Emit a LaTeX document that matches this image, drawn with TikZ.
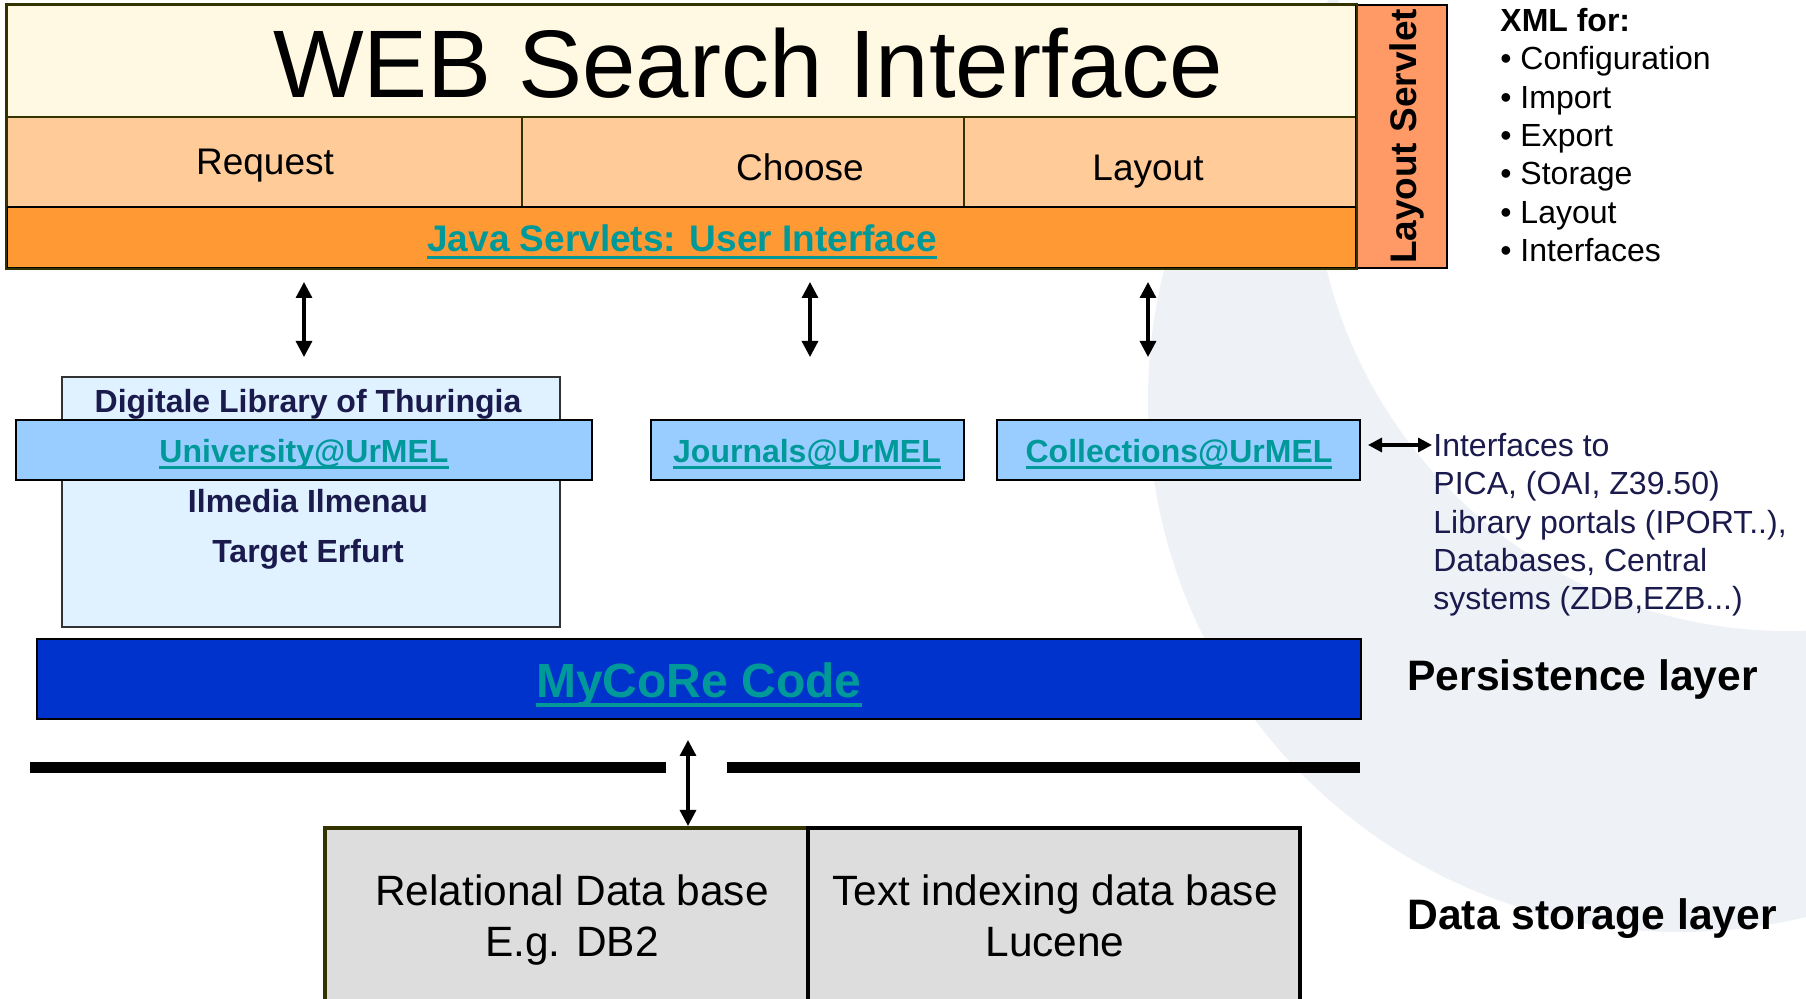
\documentclass[tikz,border=0pt]{standalone}
\usepackage{fontspec}
\setmainfont{Liberation Sans}
\usetikzlibrary{arrows.meta}
\definecolor{frameolive}{HTML}{333300}
\definecolor{webfill}{HTML}{FFF9E3}
\definecolor{rowfill}{HTML}{FFCC99}
\definecolor{javafill}{HTML}{FF9933}
\definecolor{servletfill}{HTML}{FF9966}
\definecolor{linkteal}{HTML}{009999}
\definecolor{libfill}{HTML}{E0F2FF}
\definecolor{urmelfill}{HTML}{99CCFF}
\definecolor{mycorefill}{HTML}{0033CC}
\definecolor{navytext}{HTML}{1A1A4D}
\definecolor{dbfill}{HTML}{DDDDDD}
\definecolor{bgarc}{HTML}{EEF1F6}
\newcommand\linktext[1]{\setbox0\hbox{#1}\rlap{\rule[-0.2em]{\wd0}{0.085em}}\box0}
\begin{document}
\begin{tikzpicture}[x=0.5pt, y=-0.5pt, >={Triangle[width=8pt,length=8pt]},
  every node/.style={inner sep=0pt},
  box/.style={draw=frameolive, line width=0.6pt},
  urmel/.style={draw=black, line width=0.8pt, fill=urmelfill, minimum height=30pt},
  cell/.style={font=\fontsize{18.5}{22}\selectfont, anchor=base},
  link/.style={font=\fontsize{16}{19}\selectfont\bfseries, text=linkteal, anchor=base},
  libtext/.style={font=\fontsize{16}{19}\selectfont\bfseries, text=navytext, anchor=base},
  note/.style={font=\fontsize{16}{19.15}\selectfont, align=left, anchor=north west},
  layer/.style={font=\fontsize{21.3}{25}\selectfont\bfseries, anchor=base west},
  dbtext/.style={font=\fontsize{21.2}{25.5}\selectfont, align=center},
  dbl/.style={<->, line width=1.6pt}]
\path[use as bounding box, clip] (0,0) rectangle (1806,999);
% background swoosh
\fill[bgarc] (1680,400) circle[radius=532];
\fill[white] (1788,156) circle[radius=475];

% web interface
\node[box, fill=webfill, minimum width=674.5pt, minimum height=56pt] (web) at (681.5,61) {};
\node[font=\fontsize{48}{58}\selectfont, anchor=base] (webtitle) at (748,98) {WEB Search Interface};
\node[box, fill=rowfill, minimum width=257.5pt, minimum height=45pt] (request) at (264.5,162) {};
\node[box, fill=rowfill, minimum width=221pt, minimum height=45pt] (choose) at (743,162) {};
\node[box, fill=rowfill, minimum width=196pt, minimum height=45pt] (layout) at (1160,162) {};
\node[cell] (requesttext) at (265,175) {Request};
\node[cell] (choosetext) at (800,181) {Choose};
\node[cell] (layouttext) at (1148,181) {Layout};
\node[box, draw=black, fill=javafill, minimum width=674.5pt, minimum height=30.5pt] (java) at (681.5,237.5) {};
\node[link, font=\fontsize{18.5}{22}\selectfont\bfseries] (javatext) at (682,252) {\linktext{Java Servlets: User Interface}};
\node[box, draw=black, fill=servletfill, minimum width=45.5pt, minimum height=131.5pt] (servlet) at (1401.5,136.5) {};
\node[cell, font=\fontsize{18.5}{22}\selectfont\bfseries, rotate=90] (servlettext) at (1416,136.5) {Layout Servlet};
\draw[frameolive, line width=1pt] (web.north west) rectangle (java.south east);

\node[note] (xmlfor) at (1500,8) {\textbf{XML for:}\\• Configuration\\• Import\\• Export\\• Storage\\• Layout\\• Interfaces};

\coordinate (up1) at (304,282);  \coordinate (dn1) at (304,357);
\coordinate (up2) at (810,282);  \coordinate (dn2) at (810,357);
\coordinate (up3) at (1148,282); \coordinate (dn3) at (1148,357);
\path[dbl]
	(up1) edge (dn1)
	(up2) edge (dn2)
	(up3) edge (dn3)
	;

% libraries
\node[box, draw=black!80, fill=libfill, minimum width=249pt, minimum height=125pt] (thuringia) at (311,502) {};
\node[urmel, minimum width=288pt] (university) at (304,450) {};
\node[libtext] (dlt) at (308,412.5) {Digitale Library of Thuringia};
\node[link] (universitytext) at (304,462.5) {\linktext{University@UrMEL}};
\node[libtext] (ilmedia) at (308,512.5) {Ilmedia Ilmenau};
\node[libtext] (erfurt) at (308,562.5) {Target Erfurt};
\node[urmel, minimum width=156.5pt] (journals) at (807.5,450) {};
\node[link] (journalstext) at (807,462.5) {\linktext{Journals@UrMEL}};
\node[urmel, minimum width=181.5pt] (collections) at (1178.5,450) {};
\node[link] (collectionstext) at (1179,462.5) {\linktext{Collections@UrMEL}};

\coordinate (ifl) at (1368,445); \coordinate (ifr) at (1432,445);
\path[dbl, line width=1.6pt, >={Triangle[width=7pt,length=7pt]}] (ifl) edge (ifr);
\node[note, text=navytext] (interfaces) at (1433,433) {Interfaces to\\PICA, (OAI, Z39.50)\\Library portals (IPORT..),\\Databases, Central\\systems (ZDB,EZB...)};

% persistence
\node[draw=black, line width=1pt, fill=mycorefill, minimum width=662pt, minimum height=40pt] (mycore) at (699,679) {};
\node[link, font=\fontsize{24}{29}\selectfont\bfseries] (mycoretext) at (699,697.5) {\linktext{MyCoRe Code}};
\node[layer] (persistence) at (1407,691) {Persistence layer};
\draw[line width=5.5pt] (30,768) -- (666,768) (727,768) -- (1360,768);

% data storage
\node[draw=frameolive, line width=2pt, fill=dbfill, minimum width=241.5pt, minimum height=96pt] (reldb) at (566.5,924) {};
\node[draw=black, line width=2pt, fill=dbfill, minimum width=246pt, minimum height=96pt] (textdb) at (1054,924) {};
\node[dbtext] (reltext) at (572,920.5) {Relational Data base\\E.g. DB2};
\node[dbtext] (textdbtext) at (1055,916) {Text indexing data base\\Lucene};
\coordinate (dbup) at (688,740);
\path[dbl] (dbup) edge (dbup |- reldb.north);
\node[layer] (storage) at (1407,929) {Data storage layer};
\end{tikzpicture}
\end{document}
